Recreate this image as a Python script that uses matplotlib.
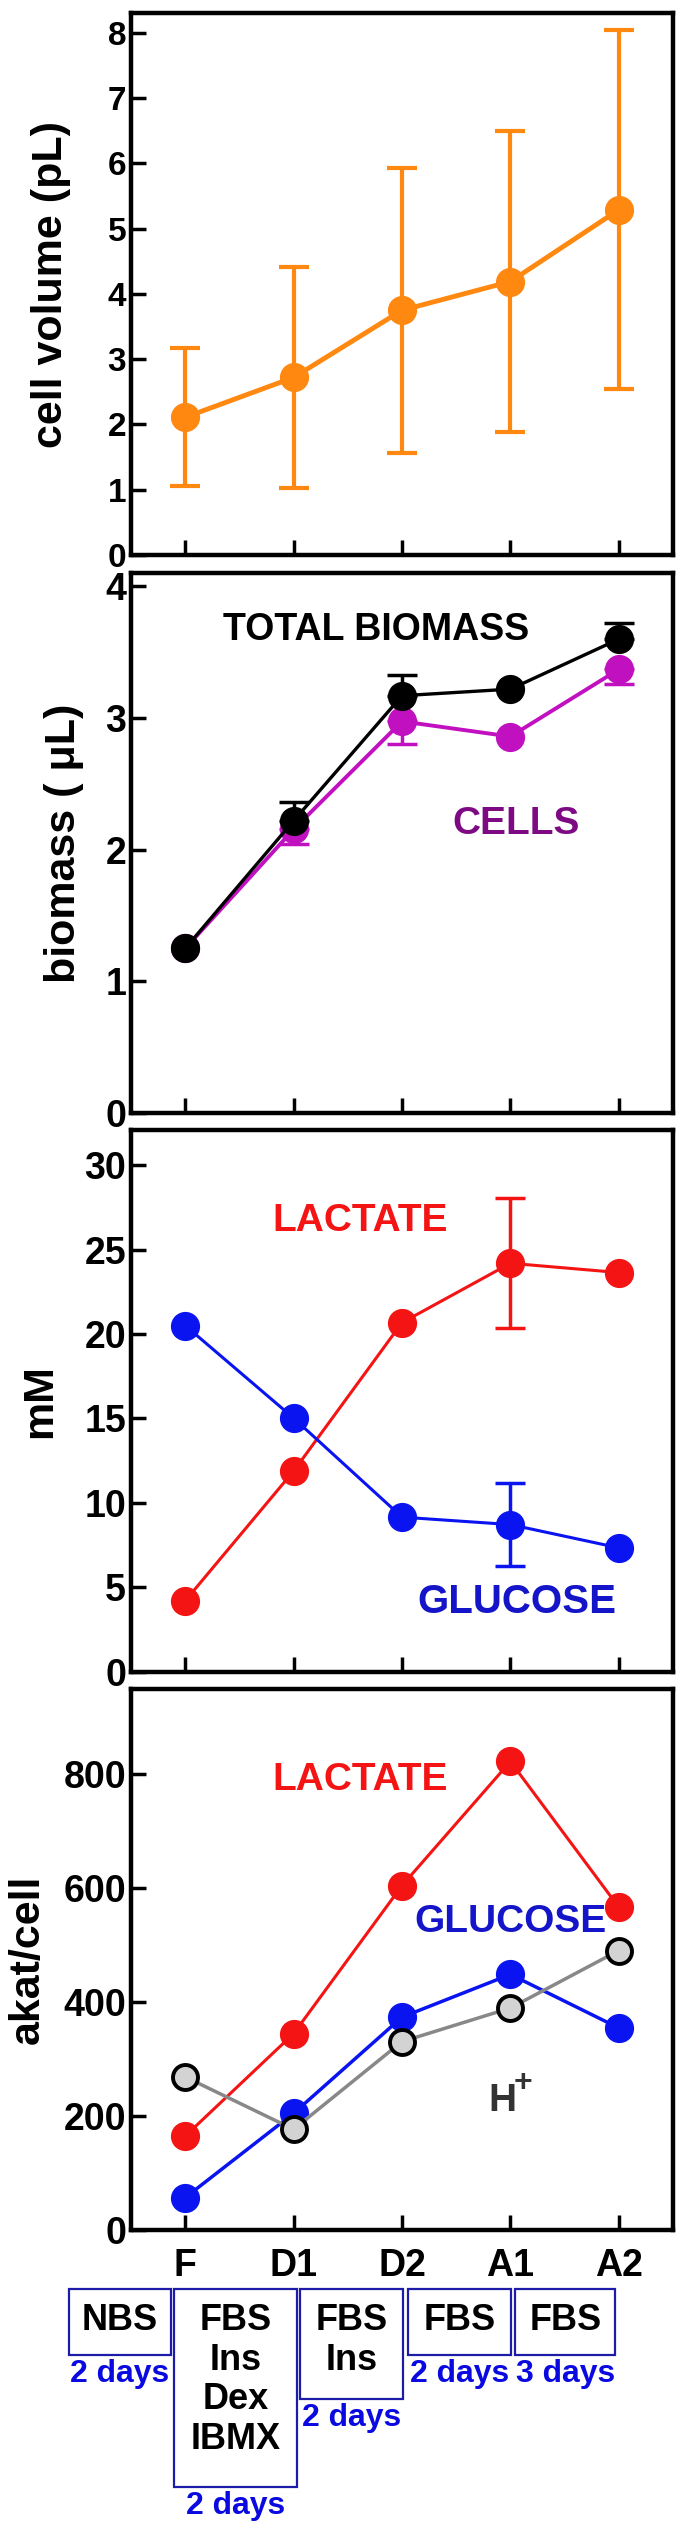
import numpy as np
import matplotlib
matplotlib.use('Agg')
import matplotlib.pyplot as plt
from matplotlib import font_manager
from matplotlib.patches import Rectangle

plt.rcParams['font.family'] = ['Liberation Sans', 'DejaVu Sans']
plt.rcParams['font.weight'] = 'bold'

# x categories
stages = ['F', 'D1', 'D2', 'A1', 'A2']

# cell volume (pL), mean +/- sd
vol = [2.11, 2.72, 3.75, 4.19, 5.29]
vol_err = [1.06, 1.69, 2.18, 2.31, 2.75]

# biomass (uL): total (error up) and cells (error down)
total_bio = [1.25, 2.22, 3.17, 3.22, 3.60]
total_bio_err = [0, 0.14, 0.16, 0, 0.12]
cells_bio = [1.25, 2.155, 2.975, 2.86, 3.37]
cells_bio_err = [0, 0.115, 0.175, 0, 0.11]

# medium concentrations (mM)
lac_mM = [4.19, 11.88, 20.68, 24.2, 23.65]
lac_mM_err = [0, 0, 0, 3.85, 0]
glc_mM = [20.51, 15.02, 9.15, 8.71, 7.33]
glc_mM_err = [0, 0, 0, 2.47, 0]

# fluxes (akat/cell)
lac_flux = [164, 344, 604, 822, 566]
glc_flux = [56, 204, 373, 448, 354]
h_flux = [268, 176, 330, 389, 490]

# culture conditions shown under the axis
media = ['NBS', 'FBS\nIns\nDex\nIBMX', 'FBS\nIns', 'FBS', 'FBS']
durations = ['2 days', '2 days', '2 days', '2 days', '3 days']

ORANGE = '#ff8811'
MAGENTA = '#c010c0'
PURPLE = '#7d0a82'
RED = '#f41414'
BLUE = '#0a14f0'
DBLUE = '#1414c8'

W, H = 685, 2541
L, R = 131, 673
fig = plt.figure(figsize=(W / 100, H / 100), dpi=100)
x = np.arange(len(stages))


def panel(top, bottom, ylim, yticks, tick_fs=27):
    ax = fig.add_axes([L / W, 1 - bottom / H, (R - L) / W, (bottom - top) / H])
    ax.set_xlim(-0.5, 4.5)
    ax.set_ylim(*ylim)
    ax.set_xticks(x)
    ax.set_yticks(yticks)
    ax.tick_params(direction='in', length=11, width=2.5, labelsize=tick_fs,
                   top=False, right=False)
    ax.tick_params(axis='y', pad=3.5)
    ax.tick_params(axis='x', pad=13)
    ax.set_xticklabels([])
    for s in ax.spines.values():
        s.set_linewidth(3.2)
    return ax


def errs(ax, y, err, color, up=True, down=True, lw=3, cap=11):
    y = np.asarray(y, float)
    err = np.asarray(err, float)
    m = err > 0
    lo = err[m] if down else np.zeros(m.sum())
    hi = err[m] if up else np.zeros(m.sum())
    ax.errorbar(x[m], y[m], yerr=[lo, hi], fmt='none', ecolor=color,
                elinewidth=lw, capsize=cap, capthick=lw, zorder=2)


def ylab(text, xc, top, bottom):
    fig.text(xc / W, 1 - (top + bottom) / 2 / H, text, rotation=90,
             ha='center', va='center', fontsize=31, fontweight='bold')


# panel 1: cell volume
ax1 = panel(13.3, 555, (0, 8.3), range(0, 9), tick_fs=24)
errs(ax1, vol, vol_err, ORANGE, lw=3, cap=11)
ax1.plot(x, vol, '-o', color=ORANGE, lw=3.5, ms=20, zorder=3)
ylab('cell volume (pL)', 51, 13.3, 555)

# panel 2: biomass
ax2 = panel(573.3, 1113, (0, 4.1), range(0, 5))
errs(ax2, cells_bio, cells_bio_err, MAGENTA, up=False, lw=2.5, cap=11)
ax2.plot(x, cells_bio, '-o', color=MAGENTA, lw=2.8, ms=20, zorder=3)
errs(ax2, total_bio, total_bio_err, 'black', down=False, lw=2.5, cap=11)
ax2.plot(x, total_bio, '-o', color='black', lw=2.4, ms=20, zorder=4)
ax2.text(1.76, 3.594, 'TOTAL BIOMASS', ha='center', va='baseline',
         fontsize=27, color='black')
ax2.text(3.05, 2.12, 'CELLS', ha='center', va='baseline', fontsize=28,
         color=PURPLE)
ylab('biomass ( μL)', 64, 573.3, 1113)

# panel 3: concentrations
ax3 = panel(1130, 1671.5, (0, 32.1), range(0, 31, 5))
errs(ax3, lac_mM, lac_mM_err, RED, lw=2.5, cap=11)
ax3.plot(x, lac_mM, '-o', color=RED, lw=2.2, ms=20, zorder=3)
errs(ax3, glc_mM, glc_mM_err, BLUE, lw=2.5, cap=11)
ax3.plot(x, glc_mM, '-o', color=BLUE, lw=2.2, ms=20, zorder=3)
ax3.text(1.61, 26.1, 'LACTATE', ha='center', va='baseline', fontsize=28,
         color=RED)
ax3.text(3.06, 3.47, 'GLUCOSE', ha='center', va='baseline', fontsize=29,
         color=DBLUE)
ylab('mM', 40, 1130, 1671.5)

# panel 4: fluxes
ax4 = panel(1688.6, 2229.5, (0, 950), range(0, 801, 200))
ax4.plot(x, lac_flux, '-o', color=RED, lw=2.2, ms=20, zorder=3)
ax4.plot(x, glc_flux, '-o', color=BLUE, lw=2.5, ms=20, zorder=4)
ax4.plot(x, h_flux, '-o', color='#888888', lw=2.5, ms=18, mfc='#d3d3d3',
         mec='black', mew=2.8, zorder=5)
ax4.set_xticklabels(stages, fontsize=27)
ax4.text(1.61, 772, 'LACTATE', ha='center', va='baseline', fontsize=28,
         color=RED)
ax4.text(3.0, 523, 'GLUCOSE', ha='center', va='baseline', fontsize=28,
         color=DBLUE)
ax4.text(2.93, 208, 'H', ha='center', va='baseline', fontsize=28,
         color='#333333')
ax4.text(3.12, 244, '+', ha='center', va='baseline', fontsize=23,
         color='#333333')
ylab('akat/cell', 28, 1688.6, 2229.5)

# condition boxes below the x axis (pixel coordinates)
ov = fig.add_axes([0, 0, 1, 1])
ov.set_xlim(0, W)
ov.set_ylim(H, 0)
ov.axis('off')

names = {f.name for f in font_manager.fontManager.ttflist}
if 'Liberation Sans Narrow' in names:
    day_font, day_fs = 'Liberation Sans Narrow', 28
else:
    day_font, day_fs = 'Liberation Sans', 23

box_x = [(69, 171), (174, 297), (300, 403.5), (408, 511), (515.5, 615)]
box_top = 2289
for (x0, x1), txt, dur in zip(box_x, media, durations):
    n = txt.count('\n') + 1
    bot = box_top + 66 + 44 * (n - 1)
    ov.add_patch(Rectangle((x0, box_top), x1 - x0, bot - box_top, fill=False,
                           ec='#1c1ca8', lw=1.6))
    ov.text((x0 + x1) / 2, box_top + 14, txt, ha='center', va='top',
            fontsize=26, linespacing=1.17, color='black')
    ov.text((x0 + x1) / 2, bot + 4, dur, ha='center', va='top',
            fontsize=day_fs, family=day_font, color='#0a0ae0')

fig.savefig('out.png', dpi=100)
